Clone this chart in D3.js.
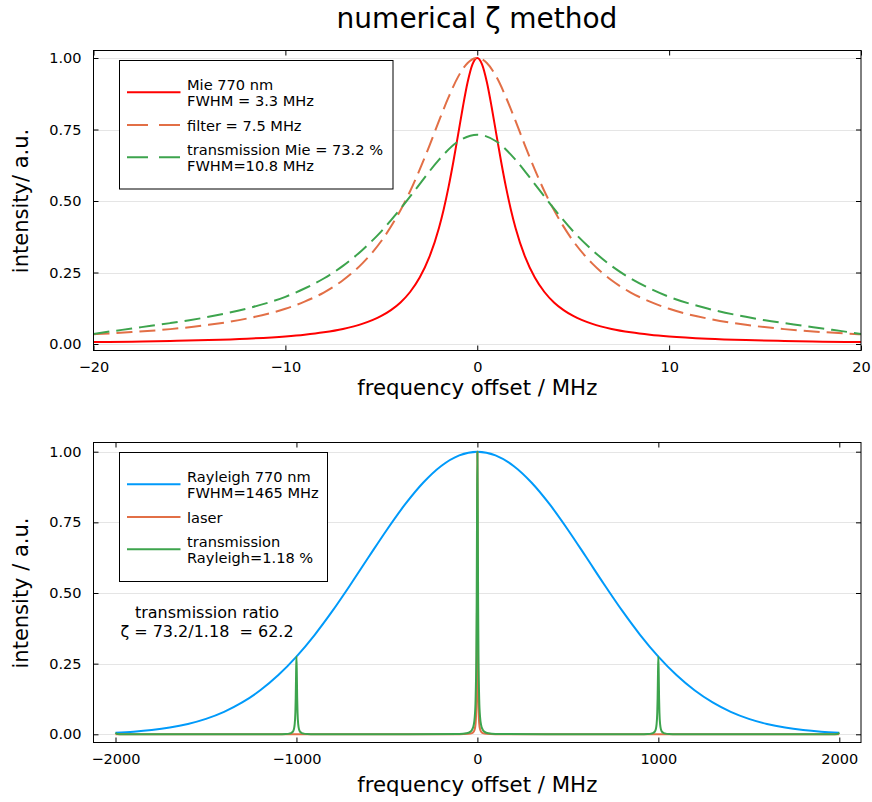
<!DOCTYPE html>
<html>
<head>
<meta charset="utf-8">
<script src="https://cdn.jsdelivr.net/npm/d3@7"></script>
<style>
  body { margin: 0; background: #fff; }
  svg { font-family: "DejaVu Sans", sans-serif; }
</style>
</head>
<body>
<svg id="chart" width="872" height="802"></svg>
<script>
// top panel: Mie line, filter, transmission (MHz, a.u.)
const mieX = [-20, -18, -16, -14, -12, -10, -9, -8, -7, -6, -5, -4.5, -4, -3.5, -3, -2.5, -2, -1.75, -1.5, -1.25, -1, -0.75, -0.5, -0.25, 0,
  0.25, 0.5, 0.75, 1, 1.25, 1.5, 1.75, 2, 2.5, 3, 3.5, 4, 4.5, 5, 6, 7, 8, 9, 10, 12, 14, 16, 18, 20];
const mieY = [0.0068, 0.0083, 0.0105, 0.0137, 0.0186, 0.0265, 0.0325, 0.0408, 0.0526, 0.0703, 0.0982, 0.1185, 0.1454, 0.1818, 0.2322, 0.3034, 0.405, 0.4706, 0.5475, 0.6354, 0.7314, 0.8288, 0.9159, 0.9776, 1,
  0.9776, 0.9159, 0.8288, 0.7314, 0.6354, 0.5475, 0.4706, 0.405, 0.3034, 0.2322, 0.1818, 0.1454, 0.1185, 0.0982, 0.0703, 0.0526, 0.0408, 0.0325, 0.0265, 0.0186, 0.0137, 0.0105, 0.0083, 0.0068];

const filterX = [-20, -18, -16, -14, -12, -10, -9, -8, -7, -6, -5, -4, -3.5, -3, -2.5, -2, -1.5, -1, -0.5, 0,
  0.5, 1, 1.5, 2, 2.5, 3, 3.5, 4, 5, 6, 7, 8, 9, 10, 12, 14, 16, 18, 20];
const filterY = [0.034, 0.0416, 0.052, 0.067, 0.089, 0.123, 0.148, 0.18, 0.223, 0.281, 0.36, 0.468, 0.534, 0.61, 0.692, 0.779, 0.862, 0.934, 0.9825, 1,
  0.9825, 0.934, 0.862, 0.779, 0.692, 0.61, 0.534, 0.468, 0.36, 0.281, 0.223, 0.18, 0.148, 0.123, 0.089, 0.067, 0.052, 0.0416, 0.034];

const transMieX = [-20, -19, -18, -17, -16, -15, -14, -12, -10, -9, -8, -7, -6, -5, -4, -3, -2, -1, 0,
  1, 2, 3, 4, 5, 6, 7, 8, 9, 10, 12, 14, 15, 16, 17, 18, 19, 20];
const transMieY = [0.035, 0.045, 0.054, 0.064, 0.073, 0.083, 0.095, 0.124, 0.165, 0.194, 0.229, 0.273, 0.328, 0.394, 0.473, 0.559, 0.644, 0.708, 0.732,
  0.708, 0.644, 0.559, 0.473, 0.394, 0.328, 0.273, 0.229, 0.194, 0.165, 0.124, 0.095, 0.083, 0.073, 0.064, 0.054, 0.045, 0.035];

// bottom panel: Rayleigh line, laser, transmission through the periodic filter
const rayX = [-2000, -1900, -1800, -1700, -1600, -1500, -1400, -1300, -1200, -1100, -1000, -900, -800, -700, -600, -500, -400, -300, -200, -100, 0,
  100, 200, 300, 400, 500, 600, 700, 800, 900, 1000, 1100, 1200, 1300, 1400, 1500, 1600, 1700, 1800, 1900, 2000];
const rayY = [0.0057, 0.0094, 0.0152, 0.0239, 0.0366, 0.0547, 0.0795, 0.1127, 0.1556, 0.2095, 0.2748, 0.3512, 0.4374, 0.531, 0.6281, 0.724, 0.8133, 0.8902, 0.9496, 0.9872, 1,
  0.9872, 0.9496, 0.8902, 0.8133, 0.724, 0.6281, 0.531, 0.4374, 0.3512, 0.2748, 0.2095, 0.1556, 0.1127, 0.0795, 0.0547, 0.0366, 0.0239, 0.0152, 0.0094, 0.0057];

const laserX = [-2000, -100, -50, -30, -20, -15, -10, -6, -4, -3, -2, -1, 0, 1, 2, 3, 4, 6, 10, 15, 20, 30, 50, 100, 2000];
const laserY = [0, 0.0004, 0.0016, 0.0044, 0.0099, 0.0175, 0.0385, 0.1, 0.2, 0.308, 0.5, 0.8, 1, 0.8, 0.5, 0.308, 0.2, 0.1, 0.0385, 0.0175, 0.0099, 0.0044, 0.0016, 0.0004, 0];

const transRayX = [-2000, -1990, -1960, -1500, -1100, -1060, -1040, -1030, -1020, -1015, -1010, -1006, -1004, -1002, -1000, -998, -996, -994, -990, -985, -980, -970, -960, -940, -900,
  -500, -100, -60, -40, -30, -20, -15, -10, -6, -4, -2, 0, 2, 4, 6, 10, 15, 20, 30, 40, 60, 100, 500,
  900, 940, 960, 970, 980, 985, 990, 994, 996, 998, 1000, 1002, 1004, 1006, 1010, 1015, 1020, 1030, 1040, 1060, 1100, 1500, 1960, 1990, 2000];
const transRayY = [0.0057, 0.0007, 0.0001, 0, 0.0004, 0.0011, 0.0024, 0.0042, 0.0094, 0.016, 0.034, 0.077, 0.129, 0.214, 0.275, 0.214, 0.129, 0.077, 0.034, 0.016, 0.0094, 0.0042, 0.0024, 0.0011, 0.0004,
  0, 0.0014, 0.0039, 0.0087, 0.0154, 0.034, 0.0588, 0.1233, 0.2809, 0.4678, 0.7786, 1, 0.7786, 0.4678, 0.2809, 0.1233, 0.0588, 0.034, 0.0154, 0.0087, 0.0039, 0.0014, 0,
  0.0004, 0.0011, 0.0024, 0.0042, 0.0094, 0.016, 0.034, 0.077, 0.129, 0.214, 0.275, 0.214, 0.129, 0.077, 0.034, 0.016, 0.0094, 0.0042, 0.0024, 0.0011, 0.0004, 0, 0.0001, 0.0007, 0.0057];

const yTicks = [0, 0.25, 0.5, 0.75, 1];
const topXTicks = [-20, -10, 0, 10, 20];
const botXTicks = [-2000, -1000, 0, 1000, 2000];

const red = '#ff0000', orange = '#e26f46', green = '#3da44d', blue = '#009afa';

const svg = d3.select('#chart');

svg.append('text')
  .attr('x', 477)
  .attr('y', 28)
  .attr('text-anchor', 'middle')
  .style('font-size', '28px')
  .text('numerical ζ method');

function panel(p) {
  const g = svg.append('g');
  const x = d3.scaleLinear().domain(p.xDomain).range(p.xRange);
  const y = d3.scaleLinear().domain([0, 1]).range(p.yRange);

  // horizontal grid only
  g.append('g')
    .selectAll('line')
    .data(yTicks)
    .enter()
    .append('line')
    .attr('x1', p.left)
    .attr('x2', p.right)
    .attr('y1', d => Math.round(y(d)) + 0.5)
    .attr('y2', d => Math.round(y(d)) + 0.5)
    .style('stroke', '#000')
    .style('stroke-opacity', 0.1)
    .style('stroke-width', 1);

  const clipId = 'clip' + p.id;
  g.append('clipPath').attr('id', clipId)
    .append('rect')
    .attr('x', p.left).attr('y', p.top)
    .attr('width', p.right - p.left).attr('height', p.bottom - p.top);

  const line = d3.line()
    .x(d => x(d[0]))
    .y(d => y(d[1]))
    .curve(d3.curveMonotoneX);

  const curves = g.append('g').attr('clip-path', `url(#${clipId})`);
  p.series.forEach(s => {
    curves.append('path')
      .datum(s.x.map((v, i) => [v, s.y[i]]))
      .attr('d', line)
      .style('fill', 'none')
      .style('stroke', s.color)
      .style('stroke-width', 2)
      .style('stroke-dasharray', s.dash ? '16,7' : null)
      .style('stroke-linejoin', 'round');
  });

  // box frame
  g.append('rect')
    .attr('x', p.left).attr('y', p.top)
    .attr('width', p.right - p.left).attr('height', p.bottom - p.top)
    .style('fill', 'none')
    .style('stroke', '#000')
    .style('stroke-width', 1);

  const styleAxis = sel => {
    sel.select('.domain').remove();
    sel.selectAll('line').style('stroke', '#000');
    sel.selectAll('text').style('font-size', '14.5px').style('font-family', '"DejaVu Sans", sans-serif').style('fill', '#000');
  };

  g.append('g')
    .attr('transform', `translate(0,${p.bottom})`)
    .call(d3.axisBottom(x).tickValues(p.xTicks).tickSizeInner(-5).tickSizeOuter(0).tickPadding(11).tickFormat(d3.format('d')))
    .call(styleAxis);
  g.append('g')
    .attr('transform', `translate(0,${p.top})`)
    .call(d3.axisTop(x).tickValues(p.xTicks).tickSizeInner(-5).tickSizeOuter(0).tickFormat(''))
    .call(styleAxis);
  g.append('g')
    .attr('transform', `translate(${p.left},0)`)
    .call(d3.axisLeft(y).tickValues(yTicks).tickSizeInner(-5).tickSizeOuter(0).tickPadding(12).tickFormat(d3.format('.2f')))
    .call(styleAxis);
  g.append('g')
    .attr('transform', `translate(${p.right},0)`)
    .call(d3.axisRight(y).tickValues(yTicks).tickSizeInner(-5).tickSizeOuter(0).tickFormat(''))
    .call(styleAxis);

  g.append('text')
    .attr('x', (p.left + p.right) / 2)
    .attr('y', p.xLabelY)
    .attr('text-anchor', 'middle')
    .style('font-size', '21.3px')
    .text('frequency offset / MHz');

  g.append('text')
    .attr('transform', `translate(28,${(p.yRange[0] + p.yRange[1]) / 2}) rotate(-90)`)
    .attr('text-anchor', 'middle')
    .style('font-size', '21px')
    .text(p.yLabel);

  // legend
  const lg = g.append('g');
  lg.append('rect')
    .attr('x', p.legend.x).attr('y', p.legend.y)
    .attr('width', p.legend.w).attr('height', p.legend.h)
    .style('fill', '#fff')
    .style('stroke', '#000')
    .style('stroke-width', 1);
  p.series.forEach((s, i) => {
    const ly = p.legend.rows[i];
    lg.append('line')
      .attr('x1', p.legend.x + 7.5).attr('x2', p.legend.x + 61)
      .attr('y1', ly).attr('y2', ly)
      .style('stroke', s.color)
      .style('stroke-width', 2)
      .style('stroke-dasharray', s.dash ? '21,11' : null);
    const t = lg.append('text')
      .attr('x', p.legend.x + 67.5)
      .attr('y', s.label.length > 1 ? ly - 2.5 : ly + 5.5)
      .style('font-size', '14.6px');
    s.label.forEach((txt, k) => {
      t.append('tspan')
        .attr('x', p.legend.x + 67.5)
        .attr('dy', k === 0 ? 0 : 16.3)
        .text(txt);
    });
  });
  return {x, y, g};
}

panel({
  id: 'top',
  left: 93.5, right: 861, top: 50.5, bottom: 350.5,
  xDomain: [-20, 20], xRange: [93.5, 861],
  yRange: [344, 58],
  xTicks: topXTicks,
  xLabelY: 395,
  yLabel: 'intensity/ a.u.',
  series: [
    {x: mieX, y: mieY, color: red, dash: false, label: ['Mie 770 nm', 'FWHM = 3.3 MHz']},
    {x: filterX, y: filterY, color: orange, dash: true, label: ['filter = 7.5 MHz']},
    {x: transMieX, y: transMieY, color: green, dash: true, label: ['transmission Mie = 73.2 %', 'FWHM=10.8 MHz']},
  ],
  legend: {x: 119.5, y: 60.5, w: 273.5, h: 128.5, rows: [92.3, 125, 157.3]},
});

const bottom = panel({
  id: 'bot',
  left: 93.5, right: 861, top: 442.5, bottom: 742.5,
  xDomain: [-2000, 2000], xRange: [115.5, 839.3],
  yRange: [734.3, 451.7],
  xTicks: botXTicks,
  xLabelY: 792,
  yLabel: 'intensity / a.u.',
  series: [
    {x: rayX, y: rayY, color: blue, dash: false, label: ['Rayleigh 770 nm', 'FWHM=1465 MHz']},
    {x: laserX, y: laserY, color: orange, dash: false, label: ['laser']},
    {x: transRayX, y: transRayY, color: green, dash: false, label: ['transmission', 'Rayleigh=1.18 %']},
  ],
  legend: {x: 119.5, y: 452.5, w: 208, h: 129, rows: [484.3, 517, 549.3]},
});

const note = bottom.g.append('text')
  .attr('text-anchor', 'middle')
  .style('font-size', '16px')
  .style('white-space', 'pre');
note.append('tspan').attr('x', 207).attr('y', 618).text('transmission ratio');
note.append('tspan').attr('x', 207).attr('y', 636.5).text('ζ = 73.2/1.18  = 62.2');
</script>
</body>
</html>
